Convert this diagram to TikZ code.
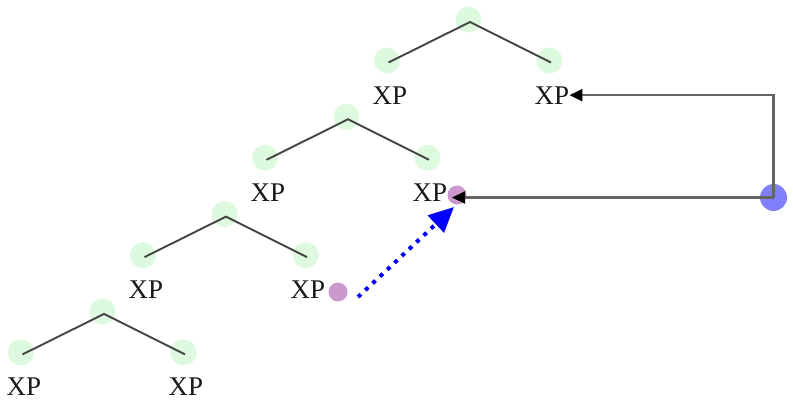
\documentclass[tikz,border=0pt]{standalone}
\usepackage{fontspec}
\setmainfont{Liberation Serif}
\usetikzlibrary{arrows.meta}
\definecolor{leafgreen}{RGB}{222,250,222}
\definecolor{treegray}{RGB}{68,68,68}
\definecolor{arrowgray}{RGB}{100,100,100}
\definecolor{movepurple}{RGB}{204,153,204}
\definecolor{sourceblue}{RGB}{128,128,255}
\begin{document}
\begin{tikzpicture}[x=1pt,y=-1pt,
  gdot/.style={circle,fill=leafgreen,minimum size=26pt,inner sep=0pt},
  pdot/.style={circle,fill=movepurple,minimum size=19pt,inner sep=0pt},
  bdot/.style={circle,fill=sourceblue,minimum size=27pt,inner sep=0pt},
  branch/.style={draw=treegray,line width=1.9pt},
  lbl/.style={inner sep=0pt,font=\fontsize{27}{32}\selectfont,text=black!90},
  garrow/.style={draw=arrowgray,line width=2.2pt,-{Triangle[length=13pt,width=12pt,color=black]}},
  bluedot/.style={draw=blue,line width=4pt,dash pattern=on 4pt off 6pt,-{Triangle[length=25pt,width=23pt,color=blue]}}]
\useasboundingbox (0,0) rectangle (793,413);
\fill[white] (0,0) rectangle (793,413);
\foreach \k in {0,1,2,3}{
  \pgfmathsetmacro\ax{470-122*\k}
  \pgfmathsetmacro\ay{22+97.3*\k}
  \node[gdot] (ga\k) at (\ax-1.5,\ay-2.5) {};
  \node[gdot] (gl\k) at (\ax-83,\ay+38.5) {};
  \node[gdot] (gr\k) at (\ax+79.5,\ay+38.5) {};
  \coordinate (a\k) at (\ax,\ay);
  \coordinate (l\k) at (\ax-81.5,\ay+40.5);
  \coordinate (r\k) at (\ax+81,\ay+40.5);
  \draw[branch] (l\k) -- (a\k) -- (r\k);
  \node[lbl,anchor=base] (xl\k) at (\ax-80,\ay+82) {XP};
  \node[lbl,anchor=base] (xr\k) at (\ax+82,\ay+82) {XP};
}
\node[pdot] (p0) at (338,292) {};
\node[pdot] (p1) at (457,195) {};
\node[bdot] (b) at (773.5,197.5) {};
\coordinate (t1) at (452,197.5);
\coordinate (ds) at (358,297);
\coordinate (de) at (454,207);
\draw[garrow] (b.center) |- (xr0.east);
\draw[garrow] (b.center) -- (t1);
\draw[bluedot] (ds) -- (de);
\end{tikzpicture}
\end{document}
